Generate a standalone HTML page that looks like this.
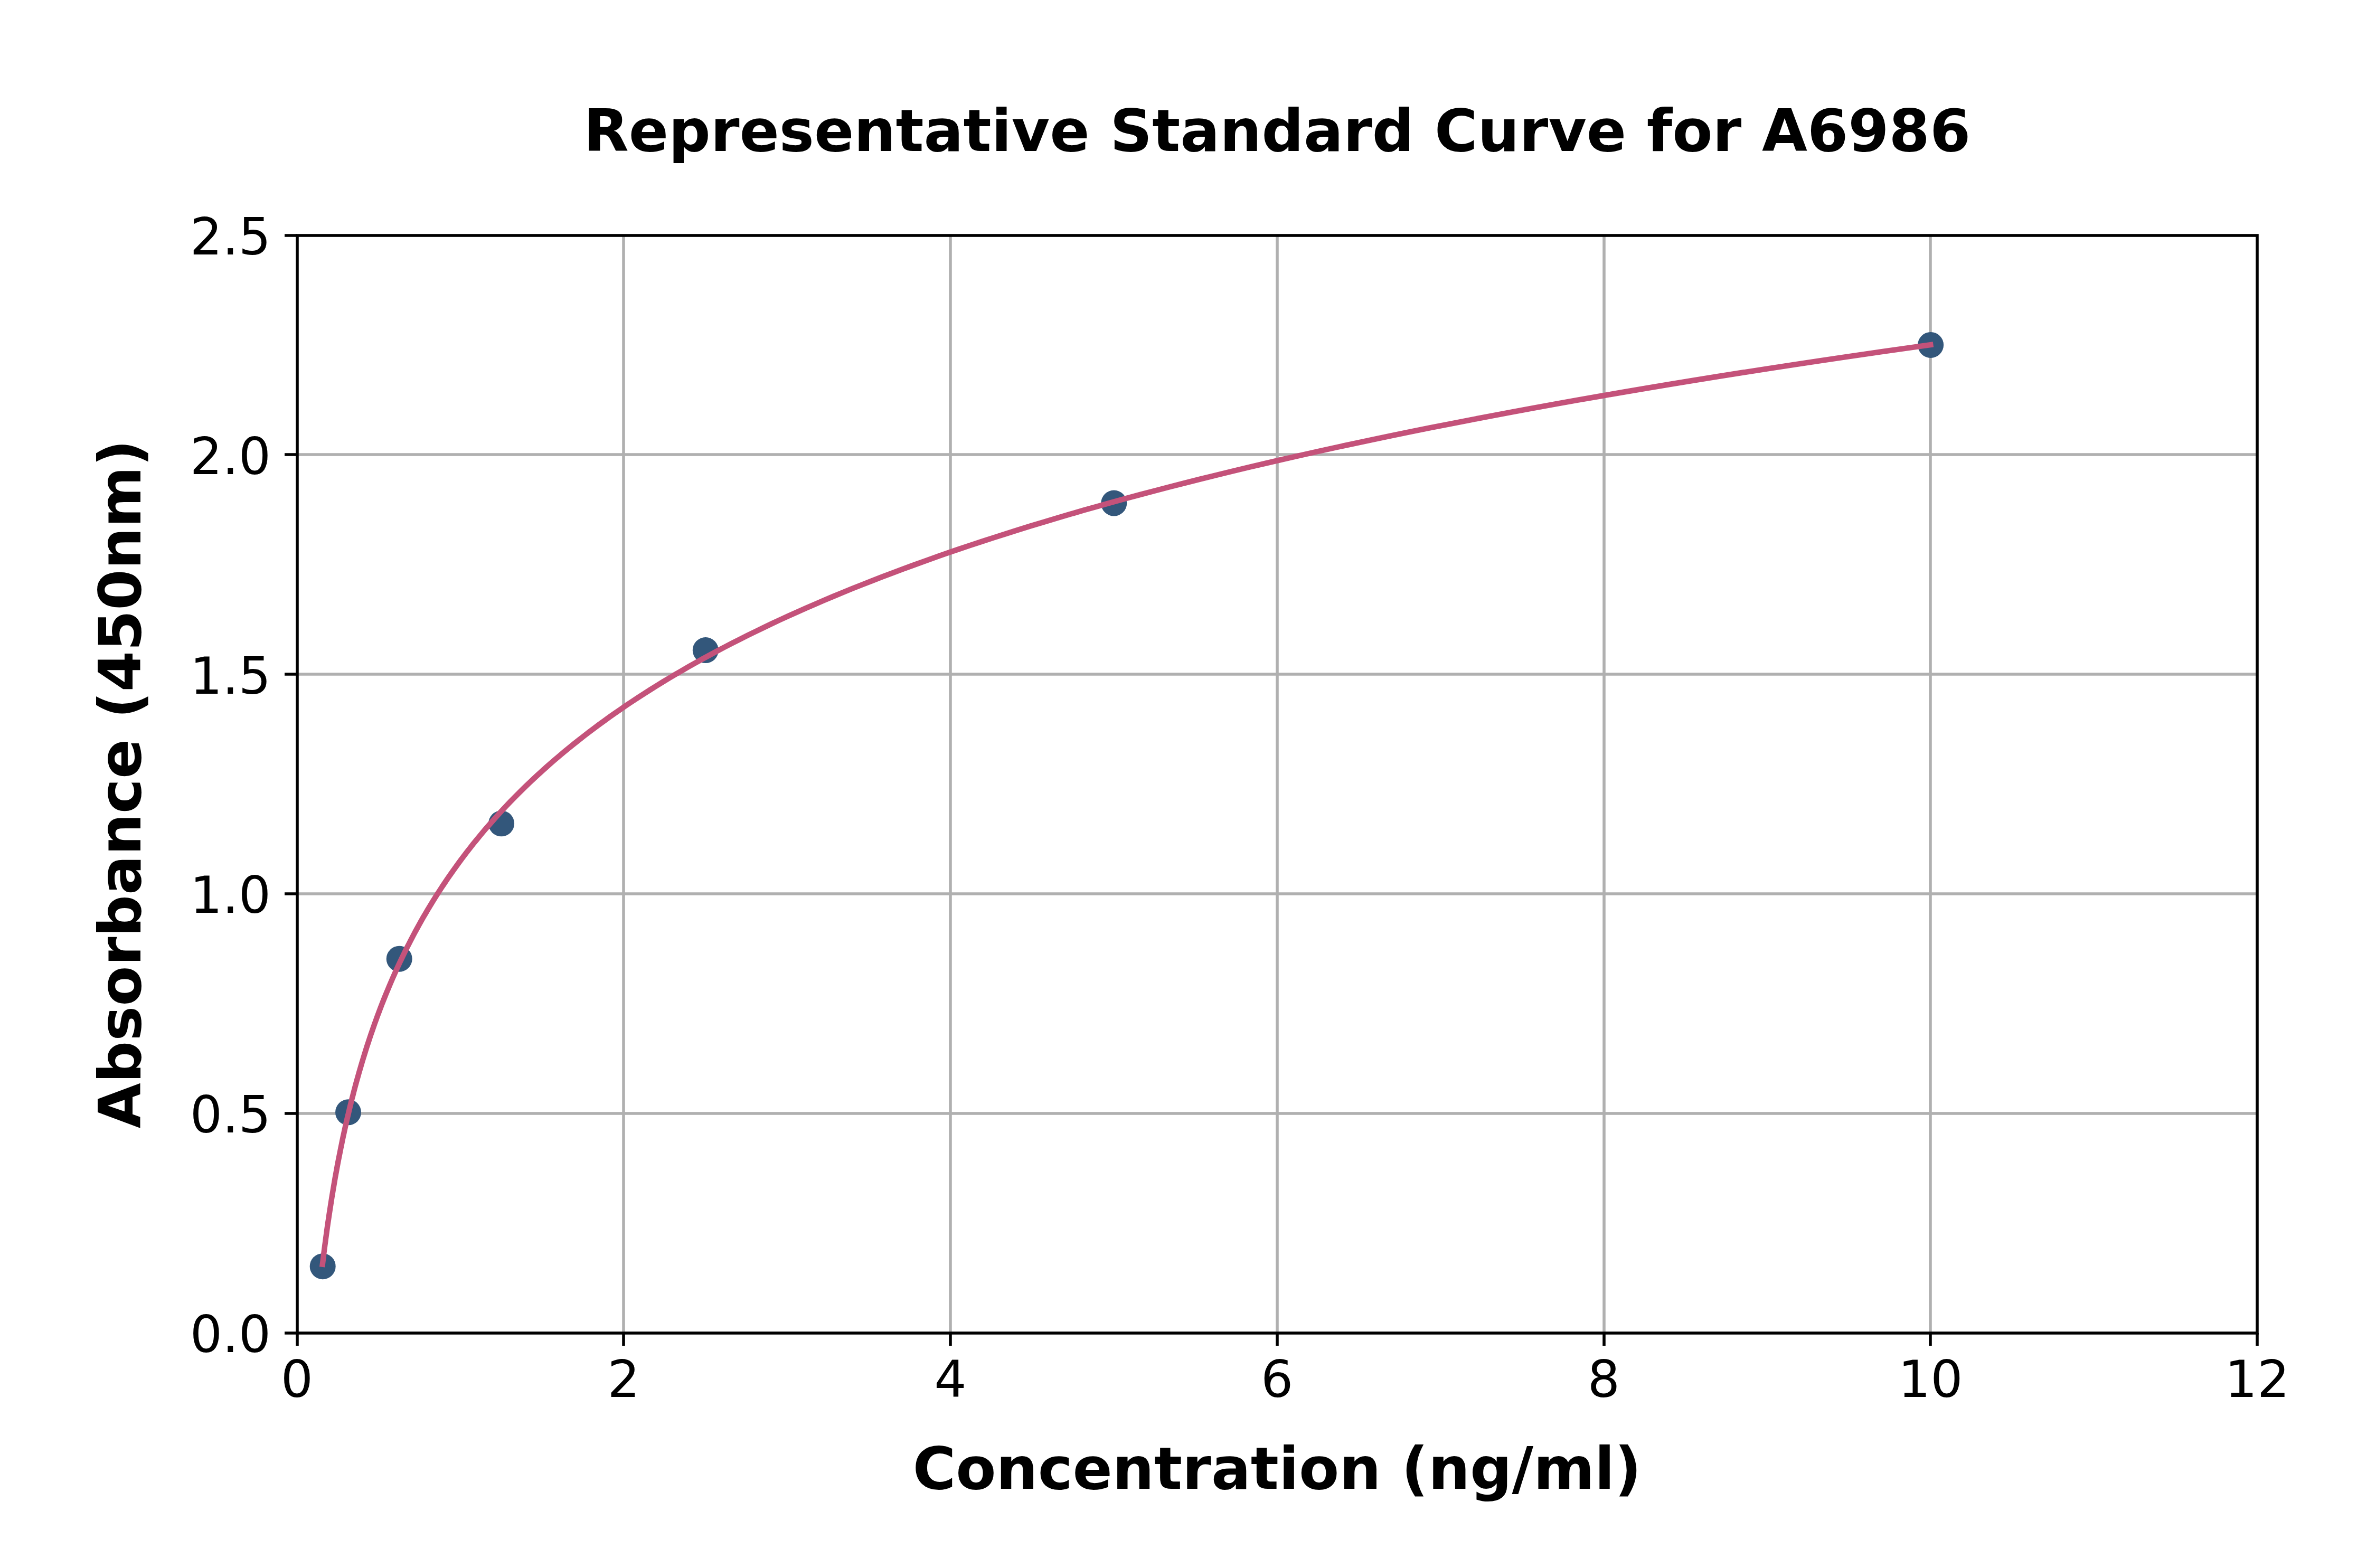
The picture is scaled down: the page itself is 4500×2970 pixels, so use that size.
<!DOCTYPE html><html><head><meta charset="utf-8"><title>Representative Standard Curve for A6986</title>
<style>html,body{margin:0;padding:0;background:#fff}body{width:4500px;height:2970px;overflow:hidden}svg{display:block}text{font-family:"DejaVu Sans","Liberation Sans",sans-serif;fill:#000}</style></head><body>
<svg width="4500" height="2970" viewBox="0 0 4500 2970">
<rect width="4500" height="2970" fill="#fff"/>
<path d="M1181 446V2525M1800 446V2525M2419 446V2525M3038 446V2525M3656 446V2525M563 2109H4275M563 1693H4275M563 1277H4275M563 861H4275" stroke="#b0b0b0" stroke-width="5.56" fill="none"/>
<circle cx="611.19" cy="2398.68" r="24.50" fill="#33577b"/>
<circle cx="659.53" cy="2106.87" r="24.50" fill="#33577b"/>
<circle cx="756.21" cy="1816.23" r="24.50" fill="#33577b"/>
<circle cx="949.57" cy="1559.84" r="24.50" fill="#33577b"/>
<circle cx="1336.29" cy="1231.61" r="24.50" fill="#33577b"/>
<circle cx="2109.72" cy="953.03" r="24.50" fill="#33577b"/>
<circle cx="3656.60" cy="653.48" r="24.50" fill="#33577b"/>
<polyline points="610.8,2394.7 611.7,2387.6 612.6,2380.5 613.4,2373.5 614.3,2366.4 615.2,2359.3 616.2,2352.3 617.1,2345.2 618.1,2338.1 619.0,2331.0 620.0,2323.9 621.0,2316.8 622.1,2309.8 623.1,2302.7 624.2,2295.6 625.3,2288.5 626.4,2281.4 627.5,2274.3 628.6,2267.2 629.8,2260.1 631.0,2253.0 632.2,2245.9 633.4,2238.8 634.6,2231.7 635.9,2224.6 637.2,2217.5 638.5,2210.3 639.8,2203.2 641.2,2196.1 642.6,2189.0 644.0,2181.9 645.4,2174.7 646.9,2167.6 648.3,2160.5 649.8,2153.4 651.4,2146.2 652.9,2139.1 654.5,2132.0 656.1,2124.8 657.8,2117.7 659.5,2110.6 661.2,2103.4 662.9,2096.3 664.7,2089.1 666.4,2082.0 668.3,2074.8 670.1,2067.7 672.0,2060.5 673.9,2053.4 675.9,2046.2 677.9,2039.1 679.9,2031.9 682.0,2024.7 684.1,2017.6 686.2,2010.4 688.4,2003.2 690.6,1996.1 692.8,1988.9 695.1,1981.7 697.5,1974.5 699.8,1967.4 702.2,1960.2 704.7,1953.0 707.2,1945.8 709.7,1938.6 712.3,1931.4 714.9,1924.3 717.6,1917.1 720.3,1909.9 723.1,1902.7 725.9,1895.5 728.8,1888.3 731.7,1881.1 734.7,1873.9 737.7,1866.7 740.8,1859.5 743.9,1852.3 747.1,1845.1 750.3,1837.8 753.6,1830.6 757.0,1823.4 760.4,1816.2 763.9,1809.0 767.4,1801.8 771.0,1794.5 774.7,1787.3 778.4,1780.1 782.2,1772.9 786.0,1765.6 790.0,1758.4 793.9,1751.2 798.0,1743.9 802.1,1736.7 806.4,1729.5 810.6,1722.2 815.0,1715.0 819.4,1707.7 823.9,1700.5 828.5,1693.2 833.2,1686.0 837.9,1678.7 842.8,1671.5 847.7,1664.2 852.7,1657.0 857.8,1649.7 863.0,1642.4 868.3,1635.2 873.6,1627.9 879.1,1620.7 884.6,1613.4 890.3,1606.1 896.0,1598.8 901.9,1591.6 907.9,1584.3 913.9,1577.0 920.1,1569.7 926.4,1562.5 932.8,1555.2 939.3,1547.9 945.9,1540.6 952.6,1533.3 959.4,1526.0 966.4,1518.7 973.5,1511.4 980.7,1504.1 988.1,1496.8 995.5,1489.5 1003.1,1482.2 1010.9,1474.9 1018.7,1467.6 1026.7,1460.3 1034.9,1453.0 1043.2,1445.7 1051.6,1438.4 1060.2,1431.1 1068.9,1423.8 1077.8,1416.4 1086.9,1409.1 1096.1,1401.8 1105.5,1394.5 1115.0,1387.2 1124.7,1379.8 1134.5,1372.5 1144.6,1365.2 1154.8,1357.8 1165.2,1350.5 1175.8,1343.2 1186.5,1335.8 1197.5,1328.5 1208.7,1321.1 1220.0,1313.8 1231.5,1306.5 1243.3,1299.1 1255.2,1291.8 1267.4,1284.4 1279.8,1277.1 1292.4,1269.7 1305.2,1262.3 1318.2,1255.0 1331.5,1247.6 1345.0,1240.3 1358.7,1232.9 1372.7,1225.5 1386.9,1218.2 1401.4,1210.8 1416.1,1203.4 1431.1,1196.1 1446.3,1188.7 1461.8,1181.3 1477.6,1173.9 1493.7,1166.6 1510.0,1159.2 1526.7,1151.8 1543.6,1144.4 1560.8,1137.0 1578.3,1129.6 1596.2,1122.2 1614.3,1114.8 1632.8,1107.5 1651.6,1100.1 1670.7,1092.7 1690.1,1085.3 1709.9,1077.9 1730.1,1070.5 1750.6,1063.1 1771.4,1055.6 1792.6,1048.2 1814.2,1040.8 1836.2,1033.4 1858.6,1026.0 1881.3,1018.6 1904.5,1011.2 1928.0,1003.8 1952.0,996.3 1976.4,988.9 2001.2,981.5 2026.4,974.1 2052.1,966.6 2078.3,959.2 2104.9,951.8 2132.0,944.3 2159.5,936.9 2187.6,929.5 2216.1,922.0 2245.1,914.6 2274.6,907.1 2304.7,899.7 2335.3,892.3 2366.4,884.8 2398.1,877.4 2430.3,869.9 2463.1,862.5 2496.4,855.0 2530.4,847.5 2564.9,840.1 2600.1,832.6 2635.8,825.2 2672.2,817.7 2709.3,810.2 2746.9,802.8 2785.3,795.3 2824.3,787.8 2864.0,780.4 2904.4,772.9 2945.5,765.4 2987.3,757.9 3029.9,750.5 3073.2,743.0 3117.3,735.5 3162.1,728.0 3207.8,720.5 3254.2,713.0 3301.5,705.5 3349.5,698.1 3398.5,690.6 3448.2,683.1 3498.9,675.6 3550.4,668.1 3602.9,660.6 3656.3,653.1" fill="none" stroke="#c4527a" stroke-width="10.42" stroke-linecap="square" stroke-linejoin="round"/>
<path d="M563 2525V2549M1181 2525V2549M1800 2525V2549M2419 2525V2549M3038 2525V2549M3656 2525V2549M4275 2525V2549M563 2525H539M563 2109H539M563 1693H539M563 1277H539M563 861H539M563 446H539" stroke="#000" stroke-width="5.56" fill="none"/>
<rect x="563.00" y="446.00" width="3712.00" height="2079.00" fill="none" stroke="#000" stroke-width="5.56" stroke-linejoin="miter"/>
<g font-size="96.40" text-anchor="middle">
<text x="562.50" y="2645.60">0</text>
<text x="1181.25" y="2645.60">2</text>
<text x="1800.00" y="2645.60">4</text>
<text x="2418.75" y="2645.60">6</text>
<text x="3037.50" y="2645.60">8</text>
<text x="3656.25" y="2645.60">10</text>
<text x="4275.00" y="2645.60">12</text>
</g><g font-size="96.40" text-anchor="end">
<text x="513.00" y="2561.00">0.0</text>
<text x="513.00" y="2145.20">0.5</text>
<text x="513.00" y="1729.40">1.0</text>
<text x="513.00" y="1313.60">1.5</text>
<text x="513.00" y="897.80">2.0</text>
<text x="513.00" y="482.00">2.5</text>
</g>
<g font-size="111.11" font-weight="bold" text-anchor="middle">
<text x="2418.75" y="286.40">Representative Standard Curve for A6986</text>
<text x="2418.75" y="2819.70">Concentration (ng/ml)</text>
<text transform="translate(266.20 1485.00) rotate(-90)">Absorbance (450nm)</text>
</g></svg></body></html>
